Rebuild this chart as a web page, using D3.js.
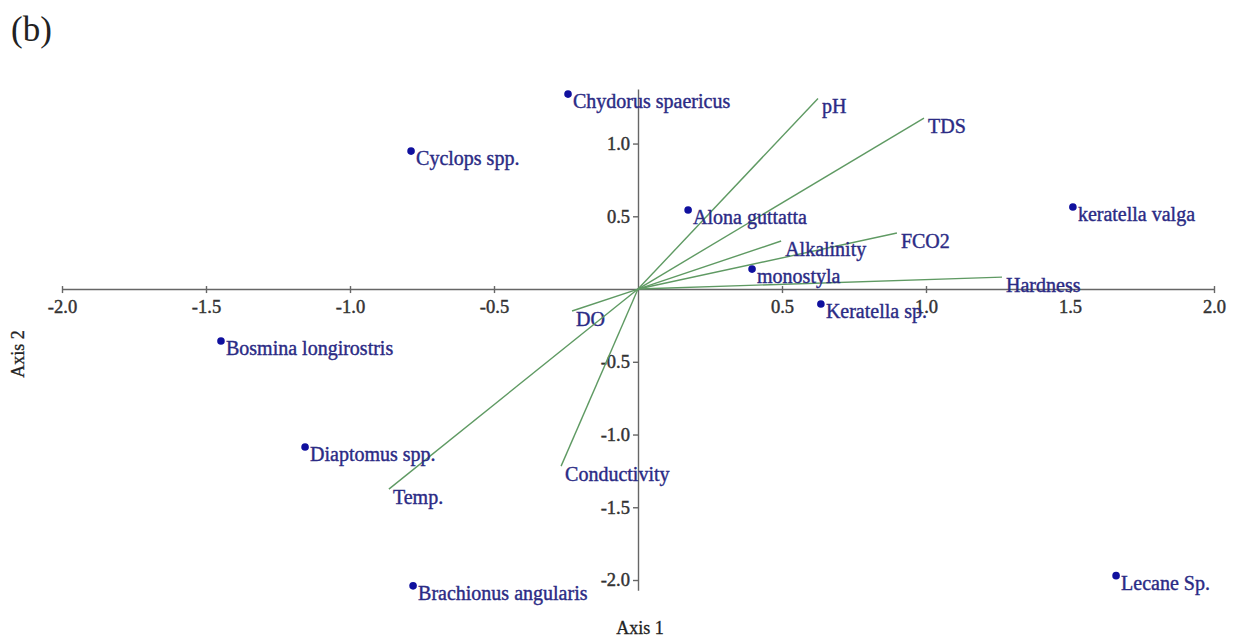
<!DOCTYPE html>
<html lang="en">
<head>
<meta charset="UTF-8">
<title>Biplot (b)</title>
<script src="https://d3js.org/d3.v7.min.js"></script>
<style>
    body { margin: 0; background: #fff; }
    svg text { font-family: "Liberation Serif", "DejaVu Serif", serif; }
    .tick text { font-size: 18.5px; fill: #333; stroke: #333; stroke-width: 0.45px; }
    .domain, .tick line { stroke: #666; stroke-width: 1.4px; }
    .species text, .vector text { font-size: 20px; fill: #2b2b85; stroke: #2b2b85; stroke-width: 0.4px; }
    .title { font-size: 18px; fill: #222; stroke: #222; stroke-width: 0.3px; }
</style>
</head>
<body>
<div id="chart"></div>
<script>
// species scores (Axis 1, Axis 2)
const speciesNames = ["Chydorus spaericus", "Cyclops spp.", "Alona guttatta", "keratella valga",
    "monostyla", "Keratella sp.", "Bosmina longirostris", "Diaptomus spp.",
    "Brachionus angularis", "Lecane Sp."];
const speciesX = [-0.243, -0.788, 0.174, 1.51, 0.396, 0.635, -1.448, -1.156, -0.781, 1.66];
const speciesY = [1.34, 0.948, 0.543, 0.564, 0.137, -0.103, -0.357, -1.086, -2.04, -1.97];

// environmental vectors (end points)
const envNames = ["pH", "TDS", "FCO2", "Alkalinity", "Hardness", "DO", "Temp.", "Conductivity"];
const envX = [0.625, 0.993, 0.899, 0.497, 1.264, -0.229, -0.865, -0.267];
const envY = [1.31, 1.175, 0.385, 0.33, 0.082, -0.151, -1.375, -1.217];

const xTicks = [-2.0, -1.5, -1.0, -0.5, 0.5, 1.0, 1.5, 2.0];
const yTicks = [-2.0, -1.5, -1.0, -0.5, 0.5, 1.0];

const width = 1238, height = 638;

const svg = d3.select("#chart").append("svg")
    .attr("width", width)
    .attr("height", height);

const x = d3.scaleLinear().domain([-2, 2]).range([62, 1214]);
const y = d3.scaleLinear().domain([-2.07, 1.375]).range([590.2, 89]);

const fmt = d => d.toFixed(1);

// x axis through origin
const xAxis = svg.append("g")
    .attr("transform", `translate(0,${y(0)})`)
    .call(d3.axisBottom(x).tickValues(xTicks).tickFormat(fmt).tickSize(4).tickSizeOuter(0).tickPadding(7));
xAxis.selectAll(".tick line").attr("y1", -3);

// y axis through origin
svg.append("g")
    .attr("transform", `translate(${x(0)},0)`)
    .call(d3.axisLeft(y).tickValues(yTicks).tickFormat(fmt).tickSize(5).tickSizeOuter(0).tickPadding(3));

// environmental vectors
const vec = svg.append("g").attr("class", "vector")
    .selectAll("g")
    .data(envNames.map((n, i) => ({ name: n, x: envX[i], y: envY[i] })))
    .join("g");

vec.append("line")
    .attr("x1", x(0)).attr("y1", y(0))
    .attr("x2", d => x(d.x)).attr("y2", d => y(d.y))
    .attr("stroke", "#5f9a63")
    .attr("stroke-width", 1.4);

vec.append("text")
    .attr("x", d => x(d.x) + 4)
    .attr("y", d => y(d.y) + 15)
    .text(d => d.name);

// species points
const sp = svg.append("g").attr("class", "species")
    .selectAll("g")
    .data(speciesNames.map((n, i) => ({ name: n, x: speciesX[i], y: speciesY[i] })))
    .join("g");

sp.append("circle")
    .attr("cx", d => x(d.x))
    .attr("cy", d => y(d.y))
    .attr("r", 3.8)
    .attr("fill", "#10109e");

sp.append("text")
    .attr("x", d => x(d.x) + 5)
    .attr("y", d => y(d.y) + 14)
    .text(d => d.name);

// axis titles
svg.append("text")
    .attr("class", "title")
    .attr("x", 640).attr("y", 634)
    .attr("text-anchor", "middle")
    .text("Axis 1");

svg.append("text")
    .attr("class", "title")
    .attr("transform", "translate(24,354) rotate(-90)")
    .attr("text-anchor", "middle")
    .text("Axis 2");

// panel label
svg.append("text")
    .attr("x", 11).attr("y", 41)
    .attr("font-size", 35)
    .attr("fill", "#222")
    .text("(b)");
</script>
</body>
</html>
